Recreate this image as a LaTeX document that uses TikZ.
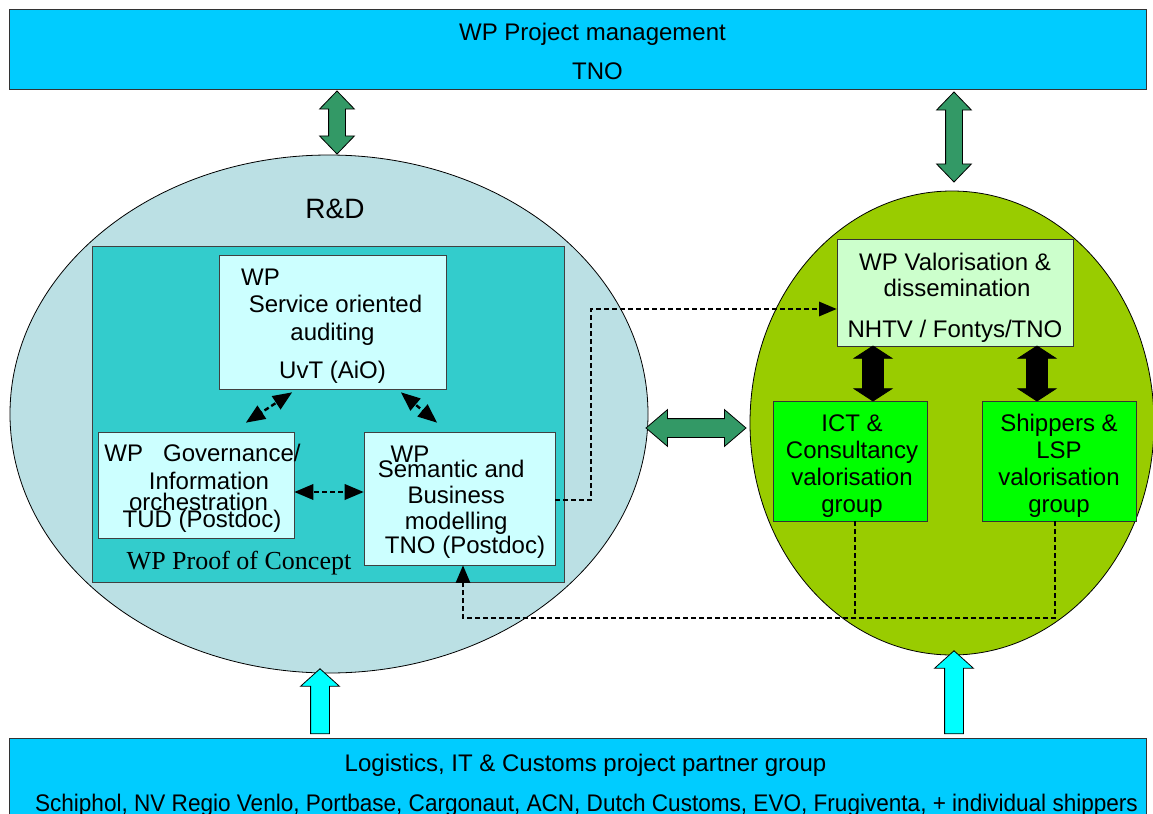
\documentclass[tikz,border=0pt]{standalone}
\usepackage{fontspec}
\setmainfont{Liberation Sans}
\newfontfamily\timesfont{Liberation Serif}
\usepackage{tikz}
\usetikzlibrary{arrows,positioning}
\usetikzlibrary{shapes.geometric,shapes.arrows}
\definecolor{pmblue}{RGB}{0,204,255}
\definecolor{rdgrey}{RGB}{187,224,228}
\definecolor{pocteal}{RGB}{51,204,204}
\definecolor{wpcyan}{RGB}{204,255,255}
\definecolor{valolive}{RGB}{153,204,0}
\definecolor{wpvgreen}{RGB}{204,255,204}
\definecolor{grpgreen}{RGB}{0,255,0}
\definecolor{arrgreen}{RGB}{51,153,102}
\definecolor{arrcyan}{RGB}{0,255,255}
\tikzstyle{arrow} = [thick,->,>=stealth]
\newcommand{\mv}[2]{\hspace*{#1}#2\hspace*{-#1}}
\newcommand{\up}[1]{\rule{0pt}{#1}}

\begin{document}
\begin{tikzpicture}[x=0.5pt,y=-0.5pt,font=\fontsize{12}{13.5}\selectfont]
                \tikzstyle{partner}=[draw=black!80,fill=pmblue,inner sep=0,align=center]
                \tikzstyle{wpbox}=[draw=black!75,fill=wpcyan,inner sep=0,align=center]
                \tikzstyle{grpbox}=[draw=black!80,fill=grpgreen,inner sep=0,align=center]
                \tikzstyle{dblarrow}=[draw=black,double arrow,fill=arrgreen,inner sep=4pt,
                    double arrow head extend=4.5pt,double arrow tip angle=88]
                \tikzstyle{blackarrow}=[draw=black,double arrow,fill=black,inner sep=5pt,
                    double arrow head extend=4.25pt,double arrow tip angle=114,rotate=90]
                \tikzstyle{uparrow}=[draw=black,single arrow,fill=arrcyan,inner sep=4.5pt,
                    single arrow head extend=5pt,single arrow tip angle=96,rotate=90]
                \tikzstyle{dashline}=[line width=1pt,dash pattern=on 2.5pt off 1.5pt,>=triangle 45]
                \tikzstyle{dasharrow}=[dashline,line width=1.2pt,<->]

                \useasboundingbox (0,0) rectangle (1153,814);

                \node [ellipse,draw,fill=rdgrey,inner sep=0,minimum width=319pt,minimum height=259pt]
                (rd) at (329,414) {};
                \node [ellipse,draw,fill=valolive,inner sep=0,minimum width=202pt,minimum height=232pt]
                (val) at (952,423) {};
                \node (rdlabel) at (335,209) {\fontsize{14}{16}\selectfont R\&D};

                \node [partner,minimum width=568.5pt,minimum height=40pt] (pm) at (577.5,49)
                {\up{10.8pt}\mv{7.5pt}{WP Project management}\\[6pt]\mv{10pt}{TNO}};
                \node [partner,minimum width=568.5pt,minimum height=46pt] (lp) at (577.5,784)
                {\up{9.8pt}\mv{4pt}{Logistics, IT \& Customs project partner group}\\[6.5pt]\mv{4.5pt}{\scalebox{0.94}[1]{Schiphol, NV Regio Venlo, Portbase, Cargonaut, ACN, Dutch Customs, EVO, Frugiventa, + individual shippers}}};

                \node [draw=black!75,fill=pocteal,minimum width=236pt,minimum height=168pt]
                (poc) at (328,414) {};
                \node (poclabel) at (239,563) {\timesfont\fontsize{13}{15}\selectfont WP Proof of Concept};

                \node [wpbox,minimum width=113.5pt,minimum height=67pt] (soa) at (332.5,322)
                {\up{12.8pt}\mv{-36pt}{WP}\\\mv{3pt}{Service oriented}\\[0.5pt]auditing\\[5.5pt]UvT (AiO)};
                \node [wpbox,minimum width=95pt,minimum height=53pt] (gov) at (196,485)
                {\up{11.8pt}\mv{3.25pt}{WP\hspace{10pt}Governance/}\\[0.5pt]\mv{13pt}{Information}\\[-3pt]\mv{2.5pt}{orchestration}\\[-5pt]\mv{3pt}{TUD (Postdoc)}};
                \node [wpbox,minimum width=95.5pt,minimum height=66.5pt] (sem) at (459.5,498.5)
                {\up{11.8pt}\mv{-24.75pt}{WP}\\[-6pt]\mv{-8.25pt}{Semantic and}\\[-0.5pt]\mv{-3.25pt}{Business}\\[-0.5pt]\mv{-3.25pt}{modelling}\\[-1.5pt]\mv{2.75pt}{TNO (Postdoc)}};

                \node [draw=black!80,fill=wpvgreen,inner sep=0,align=center,minimum width=118pt,minimum height=53.5pt]
                (wpv) at (955,292.5) {\up{13.8pt}WP Valorisation \&\\[-0.5pt]\mv{2pt}{dissemination}\\[7pt]NHTV / Fontys/TNO};
                \node [grpbox,minimum width=77pt,minimum height=60pt] (ict) at (850,461)
                {\up{13.8pt}\mv{1pt}{ICT \&}\\\mv{2pt}{Consultancy}\\\mv{2pt}{valorisation}\\\mv{1pt}{group}};
                \node [grpbox,minimum width=77pt,minimum height=60pt] (shp) at (1059,461)
                {\up{13.8pt}Shippers \&\\LSP\\valorisation\\group};

                \node [dblarrow,rotate=90,minimum height=31.5pt] (pmrd) at (337,122.5) {};
                \node [dblarrow,rotate=90,minimum height=45pt] (pmval) at (954,137) {};
                \node [dblarrow,inner sep=4.5pt,double arrow tip angle=81,minimum height=50pt] (rdval) at (696,428) {};
                \node [blackarrow,minimum height=27.5pt] (wpvict) at (873,373.5) {};
                \node [blackarrow,minimum height=27.5pt] (wpvshp) at (1037,373.5) {};
                \node [uparrow,minimum height=32.5pt] (lprd) at (320,705.5) {};
                \node [uparrow,minimum height=41.5pt] (lpval) at (954,696.5) {};

                \draw [dasharrow] ([shift={(-40.5,3)}]soa.south) -- ([shift={(50,-9)}]gov.north);
                \draw [dasharrow] ([shift={(68.5,3)}]soa.south) -- ([shift={(-22.5,-9)}]sem.north);
                \draw [dasharrow] ([shift={(0,7)}]gov.east) -- ([shift={(0,-6.5)}]sem.west);
                \draw [dashline,->] ([shift={(0,1.5)}]sem.east) -- ++(36,0) |- ([shift={(0,16.5)}]wpv.west);
                \draw [dashline] ([shift={(5,0)}]ict.south) -- ++(0,97);
                \draw [dashline,->] ([shift={(-4,0)}]shp.south) -- ++(0,97)
                -| ([shift={(3.5,0)}]sem.south);
            \end{tikzpicture}
\end{document}
